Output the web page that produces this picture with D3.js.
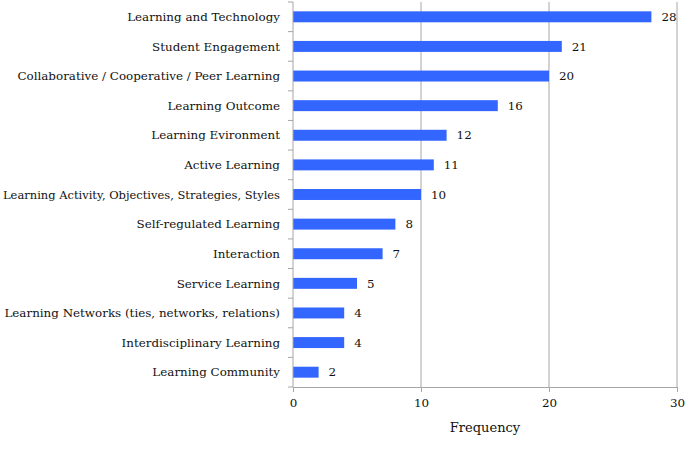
<!DOCTYPE html>
<html>
<head>
<meta charset="utf-8">
<script src="https://cdn.jsdelivr.net/npm/d3@7"></script>
<style>
  body { margin: 0; background: #fff; }
  svg text { font-family: "DejaVu Serif", "Liberation Serif", serif; fill: #111; }
</style>
</head>
<body>
<div id="chart"></div>
<script>
// chart data
const categories = [
    "Learning and Technology",
    "Student Engagement",
    "Collaborative / Cooperative / Peer Learning",
    "Learning Outcome",
    "Learning Evironment",
    "Active Learning",
    "Learning Activity, Objectives, Strategies, Styles",
    "Self-regulated Learning",
    "Interaction",
    "Service Learning",
    "Learning Networks (ties, networks, relations)",
    "Interdisciplinary Learning",
    "Learning Community"
];
const frequency = [28, 21, 20, 16, 12, 11, 10, 8, 7, 5, 4, 4, 2];
const xTicks = [0, 10, 20, 30];

const width = 685, height = 470;
const margin = {top: 2, right: 8, bottom: 83, left: 293};
const fontSize = "11.9px";

let svg = d3.select("#chart")
    .append("svg")
    .attr("width", width)
    .attr("height", height)
    .append("g")
    .attr("transform", `translate(${margin.left},${margin.top})`);

let w = width - margin.left - margin.right;
let h = height - margin.top - margin.bottom;

let x = d3.scaleLinear().domain([0, 30]).range([0, w]);
let y = d3.scaleBand().domain(categories).range([0, h]).paddingInner(0.63).paddingOuter(0.315);
let yBand = d3.scaleBand().domain(categories).range([0, h]);

// gridlines
svg.selectAll(".grid")
    .data(xTicks.slice(1))
    .enter().append("line")
    .attr("x1", d => x(d)).attr("x2", d => x(d))
    .attr("y1", 0).attr("y2", h)
    .attr("stroke", "#a6a6a6")
    .attr("stroke-width", 1);

// bars
svg.selectAll(".bar")
    .data(categories)
    .enter().append("rect")
    .attr("x", 0)
    .attr("y", d => y(d))
    .attr("width", (d, i) => x(frequency[i]))
    .attr("height", y.bandwidth())
    .attr("fill", "#3366ff");

// value labels
svg.selectAll(".val")
    .data(categories)
    .enter().append("text")
    .attr("x", (d, i) => x(frequency[i]) + 10)
    .attr("y", d => y(d) + y.bandwidth() / 2)
    .attr("dy", "0.35em")
    .style("font-size", fontSize)
    .text((d, i) => frequency[i]);

// y axis
let yAxis = svg.append("g");
yAxis.append("line")
    .attr("x1", 0).attr("x2", 0).attr("y1", 0).attr("y2", h)
    .attr("stroke", "#a6a6a6");
yAxis.selectAll(".ytick")
    .data(d3.range(categories.length + 1))
    .enter().append("line")
    .attr("x1", -5).attr("x2", 0)
    .attr("y1", d => d * yBand.step()).attr("y2", d => d * yBand.step())
    .attr("stroke", "#a6a6a6");
let ylabs = yAxis.selectAll(".ylab")
    .data(categories)
    .enter().append("text")
    .attr("x", -13)
    .attr("y", d => yBand(d) + yBand.bandwidth() / 2)
    .attr("dy", "0.35em")
    .style("text-anchor", "end")
    .style("font-size", fontSize)
    .text(d => d);
// squeeze any label that would run past the left edge
ylabs.each(function() {
    let len = this.getComputedTextLength();
    if (len > margin.left - 16) {
        d3.select(this).attr("textLength", margin.left - 16).attr("lengthAdjust", "spacingAndGlyphs");
    }
});

// x axis
let xAxis = svg.append("g").attr("transform", `translate(0,${h})`);
xAxis.call(d3.axisBottom(x).tickValues(xTicks).tickSize(5).tickSizeOuter(0));
xAxis.select(".domain").attr("stroke", "#a6a6a6");
xAxis.selectAll(".tick line").attr("stroke", "#a6a6a6");
xAxis.selectAll(".tick text")
    .attr("y", 12)
    .style("font-size", fontSize)
    .style("font-family", "DejaVu Serif, Liberation Serif, serif")
    .attr("fill", "#111");

svg.append("text")
    .attr("x", w / 2)
    .attr("y", h + 45)
    .style("text-anchor", "middle")
    .style("font-size", "13px")
    .text("Frequency");
</script>
</body>
</html>
